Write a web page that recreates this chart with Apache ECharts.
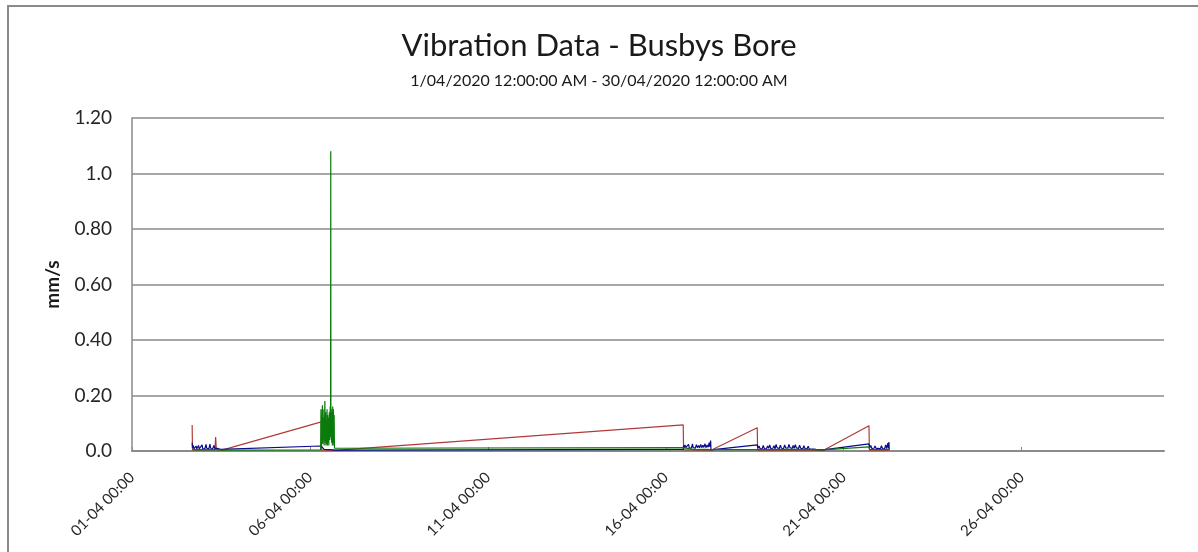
<!DOCTYPE html>
<html>
<head>
<meta charset="utf-8">
<script src="https://cdn.jsdelivr.net/npm/echarts@6/dist/echarts.min.js"></script>
<style>
html,body{margin:0;padding:0;background:#fff;}
#c{width:1198px;height:552px;}
</style>
</head>
<body>
<div id="c"></div>
<script>
// x values are days after 01-04-2020 00:00
const xTickDays = [0, 5, 10, 15, 20, 25];
const yTickLabels = ['0.0', '0.20', '0.40', '0.60', '0.80', '1.0', '1.20'];

const redData = [
  [1.69, 0.094], [1.70, 0.005], [1.80, 0.004], [1.95, 0.005], [2.10, 0.004], [2.33, 0.005],
  [2.35, 0.050], [2.37, 0.005], [2.53, 0.003],
  [5.32, 0.105], [5.33, 0.003], [5.50, 0.004], [5.70, 0.002],
  [15.49, 0.094], [15.50, 0.004], [15.80, 0.004], [16.10, 0.003], [16.27, 0.003],
  [17.57, 0.084], [17.58, 0.003], [18.00, 0.003], [18.50, 0.004], [19.00, 0.003], [19.42, 0.002],
  [20.71, 0.091], [20.72, 0.003], [21.00, 0.003], [21.28, 0.003]
];

const blueData = [
  [1.69, 0.030], [1.70, 0.012], [1.72, 0.020], [1.74, 0.008], [1.76, 0.015], [1.78, 0.010],
  [1.80, 0.018], [1.82, 0.008], [1.85, 0.012], [1.87, 0.020], [1.89, 0.008], [1.92, 0.012],
  [1.94, 0.007], [1.97, 0.022], [1.99, 0.008], [2.02, 0.013], [2.05, 0.009], [2.08, 0.024],
  [2.10, 0.010], [2.13, 0.014], [2.16, 0.008], [2.19, 0.025], [2.21, 0.010], [2.24, 0.012],
  [2.27, 0.009], [2.30, 0.020], [2.33, 0.009], [2.36, 0.015], [2.40, 0.010], [2.44, 0.008],
  [2.48, 0.006], [2.53, 0.004],
  [5.31, 0.018], [5.40, 0.006], [5.55, 0.005], [5.70, 0.003],
  [15.49, 0.006], [15.50, 0.020], [15.52, 0.010], [15.54, 0.022], [15.56, 0.012], [15.59, 0.018],
  [15.61, 0.009], [15.64, 0.024], [15.66, 0.011], [15.69, 0.017], [15.72, 0.010], [15.75, 0.026],
  [15.77, 0.012], [15.80, 0.019], [15.83, 0.010], [15.86, 0.023], [15.89, 0.012], [15.92, 0.020],
  [15.95, 0.011], [15.98, 0.024], [16.01, 0.012], [16.04, 0.021], [16.07, 0.013], [16.10, 0.026],
  [16.13, 0.012], [16.16, 0.022], [16.19, 0.014], [16.22, 0.030], [16.24, 0.015], [16.26, 0.038],
  [16.27, 0.004],
  [17.57, 0.022], [17.59, 0.010], [17.62, 0.018], [17.65, 0.008], [17.68, 0.015], [17.71, 0.009],
  [17.74, 0.020], [17.77, 0.008], [17.80, 0.014], [17.83, 0.009], [17.86, 0.018], [17.89, 0.010],
  [17.92, 0.022], [17.95, 0.009], [17.98, 0.016], [18.01, 0.010], [18.04, 0.019], [18.07, 0.008],
  [18.10, 0.024], [18.13, 0.011], [18.16, 0.017], [18.19, 0.009], [18.22, 0.021], [18.25, 0.010],
  [18.28, 0.015], [18.31, 0.009], [18.34, 0.022], [18.37, 0.011], [18.40, 0.018], [18.43, 0.010],
  [18.46, 0.024], [18.49, 0.012], [18.52, 0.016], [18.55, 0.009], [18.58, 0.020], [18.61, 0.010],
  [18.64, 0.023], [18.67, 0.011], [18.70, 0.017], [18.73, 0.009], [18.76, 0.021], [18.79, 0.010],
  [18.82, 0.014], [18.85, 0.008], [18.88, 0.019], [18.91, 0.009], [18.94, 0.015], [18.97, 0.008],
  [19.00, 0.017], [19.03, 0.008], [19.06, 0.013], [19.09, 0.007], [19.12, 0.012], [19.15, 0.007],
  [19.18, 0.010], [19.22, 0.006], [19.26, 0.009], [19.30, 0.005], [19.35, 0.006], [19.42, 0.004],
  [20.71, 0.026], [20.73, 0.012], [20.76, 0.020], [20.79, 0.009], [20.82, 0.016], [20.85, 0.010],
  [20.88, 0.018], [20.91, 0.009], [20.94, 0.015], [20.97, 0.010], [21.00, 0.014], [21.03, 0.008],
  [21.06, 0.019], [21.09, 0.009], [21.12, 0.013], [21.15, 0.008], [21.18, 0.022], [21.21, 0.009],
  [21.24, 0.028], [21.26, 0.010], [21.27, 0.032], [21.28, 0.004]
];

const greenData = [
  [1.69, 0.004], [1.90, 0.005], [2.10, 0.004], [2.30, 0.005], [2.53, 0.003],
  [5.30, 0.004], [5.31, 0.150], [5.32, 0.020], [5.33, 0.120], [5.34, 0.030], [5.35, 0.165],
  [5.36, 0.025], [5.37, 0.150], [5.38, 0.040], [5.39, 0.120], [5.40, 0.020], [5.42, 0.180],
  [5.43, 0.030], [5.44, 0.140], [5.45, 0.020], [5.46, 0.110], [5.47, 0.025], [5.48, 0.150],
  [5.49, 0.020], [5.50, 0.130], [5.51, 0.030], [5.52, 0.120], [5.53, 0.020], [5.545, 0.140],
  [5.56, 0.040], [5.57, 0.160], [5.58, 0.050], [5.585, 1.080], [5.59, 0.060], [5.60, 0.150],
  [5.61, 0.030], [5.62, 0.140], [5.63, 0.020], [5.64, 0.160], [5.65, 0.030], [5.66, 0.150],
  [5.67, 0.020], [5.68, 0.130], [5.69, 0.010], [5.70, 0.004],
  [15.49, 0.012], [15.50, 0.006], [15.80, 0.005], [16.10, 0.006], [16.27, 0.005],
  [17.57, 0.005], [17.60, 0.006], [18.00, 0.005], [18.50, 0.006], [19.00, 0.005], [19.42, 0.004],
  [20.71, 0.015], [20.73, 0.006], [21.00, 0.005], [21.28, 0.006]
];

const seriesNames = ['Red channel', 'Blue channel', 'Green channel'];
const seriesColors = ['#b03a3a', '#0a0a8c', '#0a7a0a'];

function pad2(n) { return (n < 10 ? '0' : '') + n; }

const chart = echarts.init(document.getElementById('c'), null, { renderer: 'canvas' });
const FONT = 'Lato, "Open Sans", sans-serif';

chart.setOption({
  animation: false,
  backgroundColor: '#ffffff',
  title: {
    text: 'Vibration Data - Busbys Bore',
    subtext: '1/04/2020 12:00:00 AM - 30/04/2020 12:00:00 AM',
    left: 'center',
    top: 25,
    itemGap: 12,
    textStyle: { fontFamily: FONT, fontSize: 31, fontWeight: 'normal', color: '#1a1a1a' },
    subtextStyle: { fontFamily: FONT, fontSize: 16, color: '#1a1a1a' }
  },
  graphic: [{
    type: 'rect',
    shape: { x: 8, y: 6, width: 1300, height: 700 },
    style: { fill: 'none', stroke: '#8a8a8a', lineWidth: 2 },
    silent: true,
    z: -1
  }],
  grid: { left: 132, right: 34, top: 118, bottom: 101, containLabel: false },
  xAxis: {
    type: 'value',
    min: 0,
    max: 29,
    interval: 5,
    axisLine: { show: true, lineStyle: { color: '#8a8a8a', width: 2 } },
    axisTick: { show: true, inside: true, length: 4, customValues: xTickDays, lineStyle: { color: '#8a8a8a', width: 1 } },
    splitLine: { show: false },
    axisLabel: {
      customValues: xTickDays,
      rotate: 45,
      margin: 24,
      fontFamily: FONT,
      fontSize: 15,
      color: '#262626',
      formatter: function (v) { return pad2(Math.round(v) + 1) + '-04 00:00'; }
    }
  },
  yAxis: {
    type: 'value',
    min: 0,
    max: 1.2,
    interval: 0.2,
    name: 'mm/s',
    nameLocation: 'middle',
    nameGap: 70,
    nameRotate: 90,
    nameTextStyle: { fontFamily: FONT, fontSize: 19, fontWeight: 'bold', color: '#1a1a1a' },
    axisLine: { show: true, lineStyle: { color: '#8a8a8a', width: 1.5 } },
    axisTick: { show: false },
    splitLine: { show: true, lineStyle: { color: '#8a8a8a', width: 1.5 } },
    axisLabel: {
      margin: 20,
      fontFamily: FONT,
      fontSize: 19,
      color: '#262626',
      formatter: function (v) { return yTickLabels[Math.round(v / 0.2)]; }
    }
  },
  series: [redData, blueData, greenData].map(function (d, i) {
    return {
      name: seriesNames[i],
      type: 'line',
      data: d,
      showSymbol: false,
      symbol: 'none',
      lineStyle: { color: seriesColors[i], width: 1.2 },
      itemStyle: { color: seriesColors[i] },
      z: 2 + i
    };
  })
});
</script>
</body>
</html>
